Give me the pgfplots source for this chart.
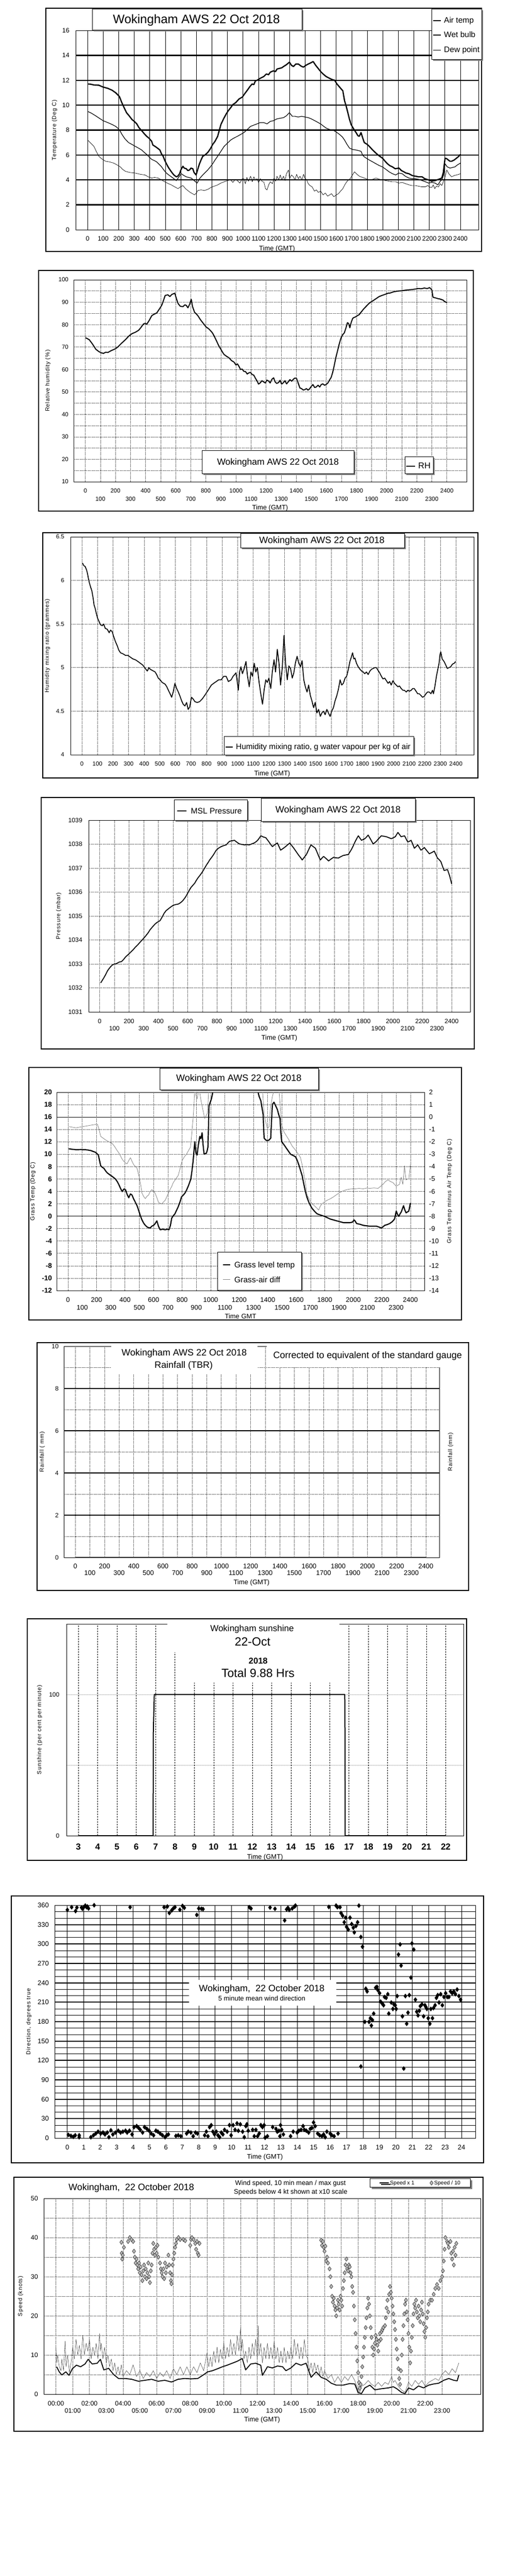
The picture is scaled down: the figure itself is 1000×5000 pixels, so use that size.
\documentclass[border=0pt]{standalone}
\usepackage{fontspec}
\setmainfont{Liberation Sans}
\newfontfamily\spaced[LetterSpace=8]{Liberation Sans}
\usepackage{pgfplots}
\pgfplotsset{compat=1.18}
\usetikzlibrary{shadows}
\newcommand\fs[1]{\fontsize{#1pt}{#1pt}\selectfont}
\newcommand\lo[1]{\raisebox{-14pt}{#1}}
\newcommand\shbox[4]{\fill[black!50] ({#1+3},{#2+3}) rectangle ({#3+3},{#4+3});
  \filldraw[fill=white,draw=black,line width=1pt] (#1,#2) rectangle (#3,#4);}
\pgfplotsset{
 /pgf/number format/1000 sep={},
 /pgf/number format/assume math mode=true,
 wb/.style={scale only axis, anchor=south west, axis line style={line width=1pt},
   major tick length=0pt, minor tick length=0pt, scaled ticks=false,
   every axis plot/.append style={line join=round}},
 gridonly/.style={scale only axis, anchor=south west, axis line style={draw=none},
   major tick length=0pt, xtick=\empty, yticklabels={}, yticklabel style={text opacity=0},
   ymajorgrids, major grid style={#1}},
 dotg/.style={black, line width=0.7pt, dash pattern=on 1pt off 1.3pt},
 stag/.style={xticklabel={\ifodd\ticknum\relax\raisebox{-#1}{\pgfmathprintnumber{\tick}}\else\pgfmathprintnumber{\tick}\fi}},
 xlab/.style={xlabel style={at={(axis description cs:0.5,#1)}, anchor=base, font=\fs{13}}},
 ylab/.style={ylabel style={at={(axis description cs:#1,0.5)}, anchor=center, font=\spaced\fs{11}}},
}
\begin{document}
\begin{tikzpicture}
\path[use as bounding box] (0,0) rectangle (1000pt,-5000pt);

% ================= 1 Temperature
\begin{axis}[gridonly={black, line width=2.4pt}, at={(147pt,-446pt)}, width=782pt, height=387pt,
 xmin=-77, xmax=2516, ymin=0, ymax=16, ytick={2,4,...,14}]
\end{axis}
\begin{axis}[wb, at={(147pt,-446pt)}, width=782pt, height=387pt,
 xmin=-77, xmax=2516, ymin=0, ymax=16,
 xtick={0,100,...,2400}, ytick={0,2,...,16},
 xmajorgrids, major grid style={black, line width=0.8pt},
 tick label style={font=\fs{12.5}},
 xticklabel style={anchor=base, yshift=-21pt},
 yticklabel style={anchor=east, inner sep=0pt, xshift=-12pt},
 xlabel={Time (GMT)}, xlab=-0.1034,
 ylabel={Temperature (Deg C)}, ylab=-0.0524]
\addplot[black, line width=0.7pt] coordinates {(0,7.2)(20,6.95)(40,6.7)(55,6.3)(72,5.9)(90,5.7)(115,5.5)(140,5.45)(168,5.35)(190,5.2)(210,5.05)(225,4.85)(242,4.7)(270,4.6)(306,4.55)(340,4.45)(369,4.4)(390,4.25)(412,4.15)(430,4.2)(454,4.15)(475,4.0)(497,3.85)(520,3.7)(539,3.6)(560,3.45)(582,3.3)(598,3.45)(613,3.55)(630,3.3)(645,3.15)(660,3.0)(675,2.9)(688,2.8)(700,2.95)(709,3.15)(730,3.2)(752,3.15)(775,3.25)(794,3.4)(815,3.5)(837,3.6)(858,3.75)(879,3.85)(900,3.95)(921,4.0)(935,3.8)(950,4.05)(964,3.95)(980,3.75)(995,4.1)(1006,4.1)(1015,3.7)(1025,4.2)(1035,3.9)(1049,4.3)(1060,3.85)(1070,4.25)(1080,4.0)(1091,4.1)(1100,3.8)(1112,4.1)(1125,3.85)(1134,3.85)(1145,3.3)(1155,3.2)(1165,3.6)(1176,3.85)(1190,3.7)(1200,4.15)(1210,3.9)(1219,4.3)(1230,4.0)(1240,4.4)(1250,4.0)(1261,4.3)(1270,3.95)(1280,4.5)(1293,4.8)(1300,4.1)(1312,4.4)(1325,4.25)(1335,4.0)(1345,4.45)(1357,4.1)(1367,4.3)(1380,4.0)(1390,4.45)(1399,4.15)(1410,4.0)(1420,3.7)(1431,3.55)(1445,3.45)(1460,3.1)(1473,3.2)(1485,3.0)(1500,3.1)(1516,2.8)(1530,2.95)(1545,2.7)(1558,2.8)(1570,2.9)(1585,2.65)(1601,2.8)(1615,2.9)(1628,3.1)(1643,3.3)(1655,3.6)(1665,3.8)(1675,3.95)(1690,4.1)(1700,4.3)(1718,4.65)(1730,4.5)(1749,4.3)(1770,4.2)(1792,4.1)(1815,4.0)(1835,4.05)(1856,4.15)(1880,4.05)(1900,4.0)(1919,3.95)(1940,3.9)(1960,3.85)(1983,3.85)(2005,3.75)(2025,3.8)(2047,3.7)(2070,3.6)(2090,3.55)(2110,3.55)(2130,3.5)(2150,3.45)(2174,3.45)(2190,3.55)(2205,3.4)(2216,3.4)(2225,3.6)(2235,3.3)(2245,3.5)(2259,3.45)(2270,3.7)(2280,3.55)(2290,3.85)(2300,4.2)(2312,4.8)(2325,4.5)(2343,4.25)(2360,4.35)(2375,4.4)(2390,4.45)(2400,4.5)};
\addplot[black, line width=1.2pt] coordinates {(0,9.5)(25,9.35)(51,9.15)(75,8.95)(100,8.75)(130,8.6)(157,8.45)(180,8.3)(195,8.15)(210,7.9)(221,7.65)(240,7.3)(263,7.0)(285,6.85)(306,6.7)(328,6.55)(348,6.4)(365,6.2)(380,6.05)(395,5.85)(412,5.65)(430,5.55)(444,5.45)(460,5.25)(476,5.05)(490,4.8)(507,4.55)(522,4.4)(539,4.25)(555,4.1)(571,3.95)(585,4.2)(603,4.5)(620,4.35)(635,4.25)(650,4.2)(667,4.15)(685,3.95)(705,3.75)(720,4.1)(741,4.4)(757,4.6)(773,4.8)(790,5.05)(805,5.3)(820,5.6)(837,5.9)(858,6.3)(879,6.7)(900,6.95)(921,7.2)(940,7.35)(964,7.5)(985,7.65)(1006,7.8)(1028,8.05)(1049,8.3)(1070,8.4)(1091,8.5)(1110,8.6)(1134,8.6)(1155,8.5)(1176,8.7)(1195,8.75)(1219,8.9)(1240,8.95)(1261,9.0)(1280,9.15)(1299,9.4)(1318,9.1)(1335,9.1)(1355,9.05)(1378,9.1)(1400,9.05)(1420,9.0)(1440,8.9)(1463,8.75)(1485,8.6)(1505,8.45)(1520,8.3)(1537,8.15)(1558,8.05)(1580,8.0)(1600,7.85)(1622,7.65)(1640,7.45)(1654,7.2)(1670,6.85)(1686,6.55)(1705,6.45)(1728,6.4)(1745,6.35)(1760,6.3)(1770,6.0)(1781,5.85)(1800,5.7)(1813,5.6)(1835,5.45)(1856,5.3)(1878,5.15)(1898,5.05)(1920,4.85)(1941,4.65)(1962,4.5)(1983,4.4)(2004,4.55)(2025,4.5)(2045,4.3)(2068,4.15)(2090,4.1)(2110,4.1)(2130,4.05)(2153,3.95)(2175,3.85)(2195,3.75)(2215,3.8)(2237,3.75)(2255,3.6)(2270,3.9)(2280,4.0)(2292,4.4)(2301,5.3)(2315,5.05)(2333,4.95)(2350,5.0)(2365,5.05)(2380,5.2)(2400,5.35)};
\addplot[black, line width=2.4pt] coordinates {(0,11.7)(20,11.68)(40,11.62)(72,11.6)(100,11.45)(130,11.35)(157,11.2)(180,11.0)(204,10.7)(220,10.2)(231,9.9)(250,9.4)(270,9.1)(285,8.85)(300,8.7)(316,8.5)(330,8.2)(348,7.95)(365,7.7)(380,7.5)(395,7.35)(412,7.1)(420,6.8)(433,6.7)(450,6.55)(465,6.4)(475,6.1)(486,5.9)(497,5.55)(507,5.3)(520,5.0)(539,4.65)(555,4.4)(571,4.25)(580,4.3)(592,4.5)(600,4.8)(613,5.1)(622,4.95)(635,4.9)(645,4.75)(656,4.8)(665,4.95)(677,4.9)(685,4.6)(698,4.4)(710,4.9)(720,5.3)(730,5.6)(741,5.9)(755,6.0)(773,6.2)(790,6.5)(805,6.85)(820,7.1)(837,7.5)(848,8.0)(858,8.45)(875,8.9)(890,9.25)(905,9.55)(921,9.8)(935,10.05)(953,10.2)(975,10.5)(996,10.65)(1010,10.9)(1028,11.2)(1045,11.5)(1059,11.7)(1070,11.65)(1080,11.95)(1091,12.0)(1110,12.15)(1134,12.3)(1150,12.5)(1165,12.45)(1176,12.65)(1195,12.75)(1210,12.7)(1219,12.9)(1235,12.95)(1250,13.0)(1261,13.1)(1280,13.25)(1299,13.45)(1312,13.2)(1325,13.1)(1340,13.3)(1357,13.3)(1372,13.15)(1389,13.05)(1405,13.2)(1420,13.3)(1437,13.4)(1452,13.5)(1468,13.2)(1484,12.95)(1500,12.7)(1516,12.5)(1535,12.3)(1558,12.15)(1575,12.05)(1590,12.0)(1605,11.7)(1622,11.45)(1643,11.15)(1654,10.35)(1665,9.9)(1675,9.4)(1685,8.9)(1696,8.45)(1712,8.1)(1728,7.8)(1740,7.55)(1749,7.5)(1760,7.8)(1770,7.4)(1781,7.0)(1800,6.85)(1813,6.7)(1835,6.4)(1856,6.15)(1875,5.95)(1898,5.75)(1915,5.5)(1930,5.3)(1945,5.15)(1962,5.05)(1980,4.9)(2004,4.95)(2020,4.75)(2036,4.65)(2050,4.55)(2068,4.5)(2090,4.35)(2110,4.3)(2130,4.25)(2153,4.25)(2170,4.1)(2195,4.0)(2215,3.9)(2237,3.95)(2260,4.05)(2280,4.15)(2290,4.6)(2301,5.75)(2312,5.7)(2322,5.6)(2333,5.5)(2343,5.5)(2360,5.6)(2375,5.75)(2390,5.9)(2400,6.05)};
\end{axis}

% ================= 2 RH
\begin{axis}[wb, at={(143pt,-935pt)}, width=763pt, height=392pt,
 xmin=-77.6, xmax=2531, ymin=10, ymax=100,
 xtick={0,100,...,2400}, ytick={10,20,...,100}, minor ytick={15,25,...,95},
 xmajorgrids, ymajorgrids, yminorgrids, major grid style={dotg}, minor grid style={dotg},
 tick label style={font=\fs{11.5}}, stag=15.6pt,
 xticklabel style={anchor=base, yshift=-21.7pt},
 yticklabel style={anchor=east, inner sep=0pt, xshift=-10pt},
 xlabel={Time (GMT)}, xlab=-0.1385,
 ylabel={Relative humidity (\%)}, ylab=-0.0655]
\addplot[black, line width=2pt] coordinates {(0,74.2)(26,73.3)(48,71.3)(70,69.0)(90,68.0)(103,67.5)(120,67.2)(135,67.7)(150,67.6)(168,68.3)(185,68.8)(201,69.3)(215,70.0)(234,71.3)(250,72.3)(266,73.3)(290,75.0)(310,76.0)(332,76.6)(354,77.5)(370,78.8)(386,80.3)(397,80.6)(408,80.2)(425,82.0)(441,84.0)(455,84.6)(474,85.2)(490,86.8)(507,88.6)(520,91.0)(530,93.0)(548,93.3)(561,92.5)(575,93.5)(594,94.0)(605,91.5)(616,89.4)(630,88.2)(648,88.0)(660,88.8)(670,88.6)(681,87.5)(692,89.0)(703,91.3)(712,88.0)(725,85.5)(736,84.8)(747,84.0)(763,82.3)(779,80.9)(790,80.0)(801,79.0)(818,78.2)(834,77.1)(845,76.2)(856,74.8)(867,73.3)(878,71.7)(889,70.2)(900,69.0)(910,67.8)(921,66.7)(935,66.0)(954,65.2)(970,64.0)(987,63.3)(1000,62.0)(1010,62.5)(1020,61.4)(1030,60.0)(1041,60.2)(1052,59.2)(1063,59.1)(1075,58.0)(1085,58.5)(1096,58.7)(1107,57.8)(1118,57.5)(1130,56.0)(1140,54.9)(1150,53.5)(1162,54.1)(1172,55.0)(1183,54.5)(1195,54.0)(1205,55.3)(1216,54.9)(1227,54.0)(1238,55.6)(1250,56.3)(1260,54.5)(1270,53.8)(1283,54.2)(1293,55.2)(1303,53.5)(1314,54.1)(1325,55.0)(1336,53.6)(1347,54.5)(1358,55.5)(1370,54.8)(1380,55.6)(1391,56.2)(1402,56.0)(1413,54.0)(1424,51.8)(1435,51.5)(1446,50.9)(1456,51.0)(1468,51.5)(1478,50.8)(1489,51.4)(1500,52.5)(1511,53.3)(1522,52.0)(1533,52.2)(1545,53.0)(1556,52.2)(1566,53.3)(1577,53.6)(1588,53.0)(1598,53.3)(1610,54.0)(1620,55.2)(1632,56.5)(1642,58.7)(1653,62.0)(1664,65.6)(1675,68.5)(1686,71.5)(1697,74.0)(1708,75.5)(1719,76.3)(1730,78.5)(1740,80.9)(1748,80.5)(1756,78.6)(1765,81.0)(1775,82.8)(1784,83.2)(1795,83.5)(1806,84.0)(1817,84.4)(1830,85.5)(1849,87.1)(1865,88.2)(1882,89.4)(1898,90.2)(1915,90.9)(1935,91.8)(1950,92.5)(1969,93.0)(1990,93.5)(2010,94.0)(2024,94.1)(2045,94.6)(2060,94.8)(2079,95.0)(2100,95.1)(2120,95.3)(2144,95.5)(2165,95.6)(2185,95.8)(2210,96.1)(2230,96.0)(2250,96.3)(2270,96.1)(2286,96.5)(2300,95.5)(2308,92.2)(2320,92.0)(2340,91.6)(2355,91.4)(2373,91.0)(2385,90.3)(2400,89.8)};
\end{axis}

% ================= 3 Mixing ratio
\begin{axis}[wb, at={(137pt,-1465pt)}, width=783pt, height=423pt,
 xmin=-72.7, xmax=2515, ymin=4, ymax=6.5,
 xtick={0,100,...,2400}, ytick={4,4.5,5,5.5,6,6.5},
 xmajorgrids, ymajorgrids, major grid style={dotg},
 tick label style={font=\fs{11.5}},
 xticklabel style={anchor=base, yshift=-21.7pt},
 yticklabel style={anchor=east, inner sep=0pt, xshift=-12pt},
 xlabel={Time (GMT)}, xlab=-0.0946,
 ylabel={Humidity mixing ratio (grammes)}, ylab=-0.0575]
\addplot[black, line width=1.7pt] coordinates {(4,6.20)(12,6.17)(21,6.16)(30,6.12)(36,6.08)(42,6.02)(47,5.98)(55,5.93)(64,5.88)(72,5.80)(78,5.72)(85,5.68)(93,5.62)(100,5.57)(110,5.53)(120,5.49)(131,5.48)(140,5.50)(150,5.45)(163,5.44)(175,5.40)(184,5.43)(195,5.41)(205,5.35)(215,5.30)(227,5.25)(237,5.20)(248,5.17)(262,5.16)(280,5.14)(295,5.14)(311,5.12)(327,5.10)(343,5.09)(360,5.07)(375,5.05)(390,5.03)(407,4.99)(420,4.96)(430,5.00)(439,4.98)(450,4.97)(460,4.96)(470,4.95)(480,4.92)(490,4.88)(502,4.86)(515,4.83)(534,4.81)(545,4.78)(555,4.74)(566,4.70)(576,4.66)(586,4.72)(597,4.82)(608,4.76)(619,4.72)(630,4.67)(640,4.62)(650,4.58)(661,4.56)(672,4.60)(682,4.52)(692,4.55)(703,4.66)(714,4.64)(725,4.61)(740,4.60)(756,4.61)(772,4.64)(788,4.68)(810,4.74)(831,4.80)(846,4.82)(862,4.84)(878,4.86)(894,4.86)(910,4.90)(926,4.90)(940,4.84)(958,4.86)(970,4.90)(980,4.92)(989,4.94)(996,4.85)(1004,4.74)(1012,4.95)(1021,5.01)(1030,4.93)(1040,4.98)(1053,5.07)(1063,4.90)(1074,4.78)(1085,4.95)(1095,4.90)(1106,5.05)(1116,4.95)(1126,5.00)(1138,4.82)(1148,4.70)(1159,4.58)(1170,4.75)(1180,4.86)(1190,4.83)(1200,4.88)(1212,4.76)(1222,4.95)(1233,5.09)(1243,4.95)(1254,5.21)(1265,5.05)(1275,4.80)(1286,5.00)(1297,5.37)(1307,5.05)(1318,4.86)(1328,5.02)(1339,4.99)(1350,4.88)(1360,4.94)(1370,5.05)(1381,5.13)(1392,5.05)(1403,5.01)(1413,5.08)(1424,4.86)(1434,4.78)(1445,4.72)(1455,4.80)(1466,4.68)(1476,4.62)(1487,4.54)(1497,4.60)(1508,4.48)(1519,4.52)(1530,4.44)(1540,4.48)(1551,4.50)(1561,4.46)(1572,4.52)(1582,4.48)(1593,4.44)(1603,4.50)(1614,4.54)(1625,4.62)(1636,4.68)(1646,4.75)(1657,4.86)(1667,4.80)(1678,4.82)(1689,4.88)(1699,4.90)(1710,4.98)(1720,5.07)(1729,5.12)(1737,5.17)(1745,5.10)(1752,5.11)(1762,5.05)(1773,5.01)(1785,4.98)(1795,4.96)(1805,4.95)(1815,4.93)(1826,4.95)(1837,4.92)(1848,4.96)(1858,4.98)(1869,4.99)(1880,5.00)(1890,5.00)(1900,4.97)(1911,4.94)(1922,4.90)(1932,4.87)(1943,4.88)(1954,4.85)(1965,4.82)(1975,4.84)(1985,4.80)(1996,4.85)(2006,4.82)(2017,4.80)(2028,4.78)(2038,4.79)(2049,4.76)(2060,4.74)(2070,4.74)(2081,4.72)(2092,4.74)(2102,4.73)(2113,4.74)(2123,4.76)(2133,4.76)(2144,4.73)(2155,4.70)(2165,4.70)(2176,4.68)(2186,4.66)(2197,4.67)(2208,4.70)(2218,4.72)(2229,4.72)(2240,4.70)(2250,4.74)(2256,4.70)(2265,4.78)(2275,4.90)(2284,4.98)(2292,5.05)(2298,5.15)(2303,5.18)(2312,5.10)(2324,5.07)(2335,5.03)(2345,4.99)(2356,5.00)(2367,5.01)(2378,5.04)(2390,5.05)(2398,5.07)};
\end{axis}

% ================= 4 Pressure
\begin{axis}[wb, at={(172pt,-1964pt)}, width=741pt, height=372pt,
 xmin=-75.9, xmax=2527, ymin=1031, ymax=1039,
 xtick={0,100,...,2400}, ytick={1031,1032,...,1039},
 xmajorgrids, ymajorgrids, major grid style={dotg},
 tick label style={font=\fs{12.2}}, stag=14.5pt,
 xticklabel style={anchor=base, yshift=-22.4pt},
 yticklabel style={anchor=east, inner sep=0pt, xshift=-12pt},
 xlabel={Time (GMT)}, xlab=-0.146,
 ylabel={Pressure (mbar)}, ylab=-0.0783]
\addplot[black, line width=1.8pt] coordinates {(7,1032.21)(18,1032.32)(29,1032.43)(40,1032.55)(52,1032.70)(63,1032.80)(74,1032.88)(85,1032.95)(97,1032.99)(108,1033.0)(119,1033.03)(134,1033.08)(149,1033.10)(162,1033.18)(176,1033.29)(192,1033.38)(209,1033.48)(226,1033.58)(243,1033.70)(260,1033.80)(277,1033.92)(294,1034.03)(311,1034.15)(328,1034.28)(345,1034.44)(362,1034.56)(378,1034.67)(395,1034.75)(412,1034.81)(425,1034.95)(439,1035.11)(452,1035.22)(468,1035.30)(485,1035.38)(502,1035.45)(519,1035.48)(536,1035.50)(550,1035.55)(565,1035.63)(578,1035.73)(592,1035.86)(607,1036.03)(622,1036.19)(635,1036.28)(649,1036.38)(660,1036.50)(671,1036.60)(684,1036.70)(698,1036.82)(712,1036.96)(727,1037.12)(738,1037.22)(750,1037.34)(761,1037.43)(773,1037.53)(784,1037.64)(795,1037.75)(812,1037.84)(829,1037.90)(846,1037.94)(863,1037.97)(874,1038.05)(885,1038.12)(902,1038.14)(919,1038.16)(936,1038.08)(953,1038.01)(970,1037.99)(986,1037.97)(1003,1037.98)(1020,1037.97)(1037,1038.01)(1054,1038.05)(1066,1038.10)(1077,1038.16)(1088,1038.25)(1099,1038.35)(1116,1038.30)(1133,1038.27)(1144,1038.18)(1155,1038.09)(1167,1037.98)(1178,1037.90)(1195,1037.98)(1212,1038.05)(1223,1037.90)(1234,1037.75)(1251,1037.82)(1268,1037.90)(1283,1037.98)(1297,1038.05)(1310,1037.94)(1324,1037.83)(1341,1037.68)(1358,1037.53)(1370,1037.44)(1381,1037.34)(1395,1037.45)(1410,1037.57)(1425,1037.77)(1441,1037.97)(1456,1037.90)(1471,1037.83)(1480,1037.70)(1489,1037.57)(1497,1037.45)(1505,1037.34)(1516,1037.42)(1527,1037.49)(1544,1037.40)(1561,1037.30)(1578,1037.38)(1595,1037.45)(1611,1037.43)(1628,1037.42)(1645,1037.48)(1662,1037.53)(1679,1037.55)(1696,1037.57)(1707,1037.68)(1718,1037.79)(1730,1037.94)(1741,1038.09)(1752,1038.22)(1764,1038.35)(1775,1038.25)(1786,1038.16)(1798,1038.20)(1809,1038.23)(1820,1038.30)(1831,1038.38)(1848,1038.20)(1865,1038.01)(1876,1038.06)(1887,1038.12)(1904,1038.24)(1921,1038.35)(1938,1038.33)(1955,1038.31)(1972,1038.27)(1989,1038.23)(2003,1038.27)(2016,1038.31)(2025,1038.40)(2034,1038.49)(2045,1038.40)(2056,1038.31)(2067,1038.33)(2079,1038.35)(2090,1038.22)(2101,1038.09)(2112,1038.12)(2124,1038.16)(2135,1038.00)(2146,1037.83)(2158,1037.90)(2169,1037.97)(2180,1037.86)(2191,1037.75)(2203,1037.80)(2214,1037.86)(2231,1037.73)(2248,1037.60)(2265,1037.65)(2282,1037.71)(2293,1037.56)(2304,1037.42)(2316,1037.35)(2327,1037.27)(2338,1037.08)(2349,1036.90)(2360,1036.92)(2372,1036.94)(2380,1036.80)(2387,1036.67)(2394,1036.50)(2401,1036.34)};
\end{axis}

% ================= 5 Grass
\begin{axis}[gridonly={black, line width=1.2pt}, at={(110pt,-2505pt)}, width=714pt, height=385pt,
 xmin=-79.4, xmax=2498, ymin=-12, ymax=20, ytick={0,16}]
\end{axis}
\begin{axis}[wb, at={(110pt,-2505pt)}, width=714pt, height=385pt,
 xmin=-79.4, xmax=2498, ymin=-12, ymax=20,
 xtick={0,100,...,2400}, ytick={-12,-10,...,20},
 xmajorgrids, ymajorgrids, major grid style={dotg},
 tick label style={font=\fs{13}}, stag=15.9pt,
 xticklabel style={anchor=base, yshift=-22pt},
 yticklabel style={font=\bfseries\fs{13.5}, anchor=east, inner sep=0pt, xshift=-9pt},
 xlabel={Time GMT}, xlab=-0.141,
 ylabel={Grass Temp (Deg C)}, ylab=-0.0644]
\addplot[black, line width=2.2pt] coordinates {(5,10.87)(30,10.8)(56,10.73)(90,10.75)(125,10.73)(160,10.59)(194,10.30)(213,9.87)(229,8.15)(240,7.9)(252,7.72)(264,7.3)(275,7.00)(292,6.7)(310,6.42)(322,6.2)(333,5.99)(345,5.6)(356,5.13)(368,4.5)(380,3.98)(392,4.4)(403,4.27)(415,3.5)(426,2.98)(438,3.6)(449,3.41)(460,2.8)(472,2.26)(484,1.7)(495,0.97)(507,0.1)(519,-0.61)(530,-1.1)(542,-1.47)(558,-1.8)(576,-1.90)(588,-1.6)(600,-1.47)(611,-1.2)(623,-0.75)(634,-1.6)(646,-2.19)(664,-2.1)(681,-2.19)(695,-2.1)(708,-2.19)(718,-1.5)(727,-0.32)(739,0.1)(750,0.40)(762,1.0)(773,1.54)(785,2.3)(796,3.12)(808,3.4)(819,3.70)(831,4.2)(843,4.85)(852,5.4)(861,5.99)(870,7.5)(877,8.86)(883,10.5)(889,12.02)(897,10.2)(905,9.87)(914,11.5)(924,12.88)(932,12.5)(940,13.46)(947,11.5)(954,10.01)(962,10.1)(970,10.16)(976,10.6)(981,11.16)(985,14.5)(988,17.76)(996,18.3)(1005,18.91)(1012,19.6)(1016,20.3)(1050,23)(1150,25)(1250,24)(1300,21.5)(1329,20.3)(1340,19.3)(1352,18.62)(1360,17.5)(1368,16.33)(1372,14.0)(1375,12.59)(1386,12.3)(1398,12.16)(1410,12.3)(1421,12.59)(1427,15.5)(1433,18.05)(1444,18.39)(1456,17.8)(1468,17.19)(1477,16.4)(1486,15.75)(1492,13.5)(1498,12.02)(1512,11.6)(1525,11.16)(1542,10.6)(1560,10.01)(1578,9.8)(1595,9.58)(1607,9.0)(1618,8.29)(1630,7.4)(1641,6.57)(1653,5.2)(1664,3.98)(1676,3.0)(1688,2.26)(1700,1.7)(1711,1.26)(1728,0.8)(1745,0.40)(1768,0.2)(1792,0.02)(1815,-0.2)(1838,-0.46)(1861,-0.6)(1884,-0.75)(1908,-0.9)(1931,-1.04)(1954,-1.05)(1977,-1.04)(1995,-0.95)(2005,-0.6)(2012,-0.75)(2023,-1.18)(2046,-1.3)(2069,-1.47)(2093,-1.55)(2116,-1.61)(2139,-1.6)(2162,-1.61)(2180,-1.75)(2197,-1.90)(2209,-1.7)(2220,-1.47)(2238,-1.35)(2255,-1.18)(2272,-0.9)(2289,-0.46)(2296,0.3)(2301,0.83)(2310,0.3)(2319,-0.03)(2328,0.4)(2336,0.68)(2344,1.2)(2352,1.69)(2361,1.0)(2370,0.54)(2380,0.7)(2389,0.83)(2395,1.5)(2400,2.12)};
\end{axis}
\begin{axis}[wb, at={(110pt,-2505pt)}, width=714pt, height=385pt,
 xmin=-79.4, xmax=2498, ymin=-14, ymax=2, ytick={-14,-13,...,2},
 axis y line*=right, axis x line=none,
 yticklabel style={font=\fs{13}, anchor=west, inner sep=0pt, xshift=9pt},
 ylabel={Grass Temp minus Air Temp (Deg C)},
 ylabel style={at={(axis description cs:1.0686,0.5)}, anchor=center, font=\spaced\fs{11}}]
\addplot[black!50, line width=0.8pt] coordinates {(5,-0.77)(30,-0.82)(56,-0.87)(90,-0.8)(125,-0.73)(165,-0.65)(206,-0.58)(218,-1.0)(229,-1.56)(246,-1.7)(264,-1.85)(287,-2.0)(310,-2.13)(328,-2.4)(345,-2.71)(357,-2.9)(368,-3.14)(380,-3.4)(391,-3.57)(403,-3.7)(414,-3.78)(426,-3.5)(438,-3.28)(450,-3.6)(461,-3.85)(473,-4.0)(484,-4.14)(492,-4.5)(500,-4.86)(510,-5.5)(519,-6.15)(530,-6.4)(542,-6.58)(553,-6.4)(565,-6.29)(576,-6.0)(588,-5.86)(600,-6.0)(611,-6.15)(623,-6.5)(634,-6.87)(645,-6.95)(657,-7.01)(669,-6.85)(681,-6.72)(698,-6.3)(715,-5.86)(727,-5.6)(738,-5.29)(755,-5.0)(773,-4.71)(787,-4.1)(801,-3.49)(816,-3.2)(831,-2.99)(845,-2.7)(859,-2.42)(868,-1.3)(877,-0.12)(883,1.0)(889,2.3)(897,1.8)(905,1.45)(912,1.9)(919,2.3)(930,1.5)(940,0.88)(949,0.4)(958,-0.12)(968,0.1)(977,0.31)(982,1.2)(986,2.2)(1000,3)(1100,4)(1200,4.5)(1300,3.5)(1363,2.2)(1370,1.0)(1375,0.16)(1386,-0.4)(1398,-0.91)(1404,-0.85)(1410,-0.77)(1415,0.1)(1421,0.88)(1432,1.6)(1444,2.2)(1479,2.2)(1488,0.8)(1495,-0.55)(1505,-0.9)(1514,-1.20)(1530,-1.5)(1549,-1.85)(1560,-2.1)(1572,-2.35)(1590,-2.6)(1606,-2.85)(1618,-3.05)(1630,-3.28)(1642,-3.9)(1653,-4.57)(1665,-5.4)(1676,-6.29)(1694,-6.7)(1711,-7.01)(1722,-7.1)(1734,-7.23)(1745,-7.35)(1757,-7.51)(1768,-7.2)(1780,-7.01)(1797,-6.85)(1815,-6.72)(1838,-6.6)(1861,-6.44)(1884,-6.25)(1907,-6.08)(1930,-5.95)(1954,-5.86)(1983,-5.8)(2012,-5.79)(2040,-5.75)(2069,-5.79)(2093,-5.73)(2116,-5.75)(2145,-5.72)(2174,-5.75)(2190,-5.6)(2208,-5.43)(2225,-5.2)(2243,-5.07)(2260,-5.2)(2278,-5.29)(2290,-5.45)(2301,-5.58)(2312,-5.5)(2324,-5.43)(2330,-5.1)(2336,-4.86)(2342,-5.2)(2347,-5.43)(2353,-4.7)(2359,-3.93)(2364,-4.6)(2370,-5.07)(2380,-5.0)(2389,-5.0)(2395,-4.4)(2400,-3.85)};
\end{axis}

% ================= 6 Rainfall
\begin{axis}[gridonly={black, line width=2.4pt}, at={(124pt,-3023pt)}, width=729pt, height=410pt,
 xmin=-78.3, xmax=2492, ymin=0, ymax=10, ytick={2,4,6,8}]
\end{axis}
\begin{axis}[wb, at={(124pt,-3023pt)}, width=729pt, height=410pt, clip=false,
 xmin=-78.3, xmax=2492, ymin=0, ymax=10,
 xtick={0,100,...,2400}, ytick={0,2,...,10}, minor ytick={1,3,...,9},
 xmajorgrids, yminorgrids, major grid style={dotg}, minor grid style={dotg},
 tick label style={font=\fs{13}}, stag=13.7pt,
 xticklabel style={anchor=base, yshift=-21pt},
 yticklabel style={font=\fs{12}, anchor=east, inner sep=0pt, xshift=-10pt},
 xlabel={Time (GMT)}, xlab=-0.1285,
 ylabel={Rainfall ( mm)}, ylab=-0.0576]
\addplot[black, line width=2.6pt] coordinates {(0,0)(2400,0)};
\end{axis}

% ================= 7 Sunshine
\begin{axis}[gridonly={black!45, line width=0.7pt, dash pattern=on 1pt off 1pt}, at={(129.5pt,-3563pt)}, width=770.5pt, height=411pt,
 xmin=2.40, xmax=22.92, ymin=0, ymax=150, ytick={50,100}]
\end{axis}
\begin{axis}[wb, at={(129.5pt,-3563pt)}, width=770.5pt, height=411pt, clip=false,
 xmin=2.40, xmax=22.92, ymin=0, ymax=150,
 xtick={3,4,...,22}, ytick={0,100},
 xmajorgrids, major grid style={black, line width=0.7pt, dash pattern=on 3pt off 2pt},
 tick label style={font=\fs{12}},
 xticklabel style={font=\bfseries\fs{17}, anchor=base, yshift=-27.3pt},
 yticklabel style={anchor=east, inner sep=0pt, xshift=-14pt},
 xlabel={Time (GMT)}, xlab=-0.11,
 ylabel={Sunshine (per cent per minute)}, ylab=-0.0681]
\addplot[black, line width=2pt] coordinates {(3,0)(6.87,0)(6.88,73)(6.93,100)(16.78,100)(16.79,70)(16.8,0)(22,0)};
\end{axis}

% ================= 8 Wind direction
\begin{axis}[gridonly={black, line width=2.2pt}, at={(106pt,-4150pt)}, width=817pt, height=452pt,
 xmin=-0.778, xmax=24.84, ymin=0, ymax=360, ytick={30,60,...,330}]
\end{axis}
\begin{axis}[wb, at={(106pt,-4150pt)}, width=817pt, height=452pt, clip=false,
 xmin=-0.778, xmax=24.84, ymin=0, ymax=360,
 xtick={0,1,...,24}, ytick={0,30,...,360}, minor y tick num=2,
 xmajorgrids, yminorgrids, major grid style={black, line width=0.7pt}, minor grid style={black, line width=0.7pt},
 tick label style={font=\fs{13}},
 xticklabel style={anchor=base, yshift=-22.5pt},
 yticklabel style={anchor=east, inner sep=0pt, xshift=-11pt},
 xlabel={Time (GMT)}, xlab=-0.0894,
 ylabel={Direction, degrees true}, ylab=-0.0612]
\addplot[only marks, mark=diamond*, mark size=4.4, mark options={fill=black, draw=black}] coordinates {
(0,352.8)(0.26,357)(0.5,351)(0.58,356.5)(0.86,356.5)(0.92,354.5)(1.0,357)(1.09,359.4)(1.17,357)(1.22,358)(1.29,355)(1.63,360)
(0.06,5)(0.22,3.4)(0.36,2)(0.48,4.3)(0.72,1.4)(0.72,4.3)
(1.43,1.4)(1.59,4.3)(1.73,7.1)(1.87,10)(2.03,7.1)(2.17,8.6)(2.29,5.7)(2.43,8.6)(2.53,1.4)(2.65,12)(2.77,5.7)(2.93,8.6)(3.1,11.4)(3.24,8.6)(3.38,10)(3.54,11.4)(3.64,8.6)(3.78,11.4)(3.82,357)(3.94,5.7)
(4.06,17)(4.22,18.5)(4.34,15.7)(4.44,12.8)(4.58,8.6)(4.7,17)(4.84,14.3)(4.98,11.4)(5.1,7.1)(5.25,4.3)(5.39,11.4)(5.51,10)(5.65,7.1)(5.79,4.3)(5.95,1.4)(6.05,4.3)(6.15,5.7)
(5.89,357)(6.09,358)(6.21,348)(6.35,352)(6.45,355)(6.55,357)(6.85,353)(7.01,359)(7.12,356)(7.88,345)(8.0,355)(8.16,354.5)(8.26,354)
(6.61,3.4)(6.75,4.3)(6.91,2.9)(7.26,7.1)(7.36,10)(7.52,8.6)(7.66,2.9)(7.8,8.6)(7.92,7.1)
(8.36,4.3)(8.46,10)(8.56,2.9)(8.66,17)(8.76,20)(8.86,10)(8.96,5.7)(9.07,10)(9.17,4.3)(9.27,1.4)(9.37,8.6)(9.47,5.7)(9.57,12.8)(9.73,10)(9.87,20)
(9.97,4.3)(10.09,20)(10.21,12.8)(10.33,22.8)(10.41,11.4)(10.53,21.4)(10.67,10)(10.77,1.4)(10.87,18.5)(10.93,21.4)(11.01,11.4)(11.08,357)(11.18,355)(11.28,12.8)(11.38,2.9)(11.48,12.8)(11.58,2.9)(11.68,7.1)(11.78,20)(11.88,17)(11.98,20)(12.04,0.6)(12.18,2.9)(12.34,356.5)(12.5,17)(12.64,354.5)(12.7,14.3)(12.78,10)(12.88,11.4)(12.94,2.9)(12.98,20)(13.05,12.8)(13.15,5.7)(13.23,336.6)(13.35,353.7)(13.43,356)(13.51,352.8)(13.59,2.9)(13.69,355)(13.75,10)(13.83,358)(13.89,359.4)
(13.99,8.6)(14.09,11.4)(14.23,12.8)(14.35,18.5)(14.43,12.8)(14.55,11.4)(14.69,8.6)(14.79,14.3)(14.89,15.7)(14.99,24.2)(15.09,18.5)(15.24,7.1)(15.36,4.3)(15.5,2.9)(15.6,5.7)(15.7,1.4)(15.8,10)(15.92,357.4)(16.0,7.1)(16.1,4.3)(16.24,2.9)(16.36,359.4)(16.44,357)(16.48,7.1)(16.6,357)
(16.66,348)(16.76,343.7)(16.86,333.7)(16.94,340.8)(17.0,326.6)(17.1,322.3)(17.21,340.8)(17.31,330.9)(17.41,325.2)(17.47,318)(17.57,328)(17.67,333.7)(17.75,359.4)(17.87,310.9)(17.97,295.8)(17.87,110.7)
(18.11,179.7)(18.17,231)(18.25,226.8)(18.37,179.7)(18.45,185.4)(18.51,174)(18.57,182.5)(18.65,192.5)(18.77,232.5)(18.85,233.9)(18.91,228.7)(19.01,224)(19.07,211)(19.17,208)(19.25,205.4)(19.31,218.2)(19.41,216.8)(19.51,222.5)(19.57,192.5)(19.72,209.6)(19.82,199.7)(19.88,206.8)(19.96,205.4)(20.02,199.7)(20.08,219.6)(20.16,283.8)(20.26,299.5)(20.32,266.7)(20.4,188.2)(20.48,107.5)(20.58,219.6)(20.66,176.8)(20.74,194)(20.82,221)(20.92,248.1)(20.98,301)(21.09,291.5)(21.19,214)(21.27,195.4)(21.35,189.7)(21.43,196.8)(21.49,204)(21.59,206.8)(21.69,188.2)(21.77,205.4)(21.83,202.5)(21.89,199.7)(21.97,185.4)(22.07,176.8)(22.13,199.7)(22.23,185.4)(22.29,201)(22.39,205.4)(22.47,216.8)(22.55,221)(22.63,209.6)(22.73,222.5)(22.83,205.4)(22.93,218.2)(23.03,224)(23.13,218.2)(23.23,218.2)(23.33,226.8)(23.43,224)(23.53,226.8)(23.63,222.5)(23.73,229.6)(23.84,219.6)(23.94,214)};
\end{axis}

% ================= 9 Wind speed
\begin{axis}[wb, at={(85pt,-4647pt)}, width=848pt, height=380pt, clip=false,
 xmin=-0.724, xmax=25.29, ymin=0, ymax=50,
 xtick={0,1,...,23}, ytick={0,10,...,50}, minor ytick={5,15,...,45},
 xticklabels={00:00,\lo{01:00},02:00,\lo{03:00},04:00,\lo{05:00},06:00,\lo{07:00},08:00,\lo{09:00},10:00,\lo{11:00},12:00,\lo{13:00},14:00,\lo{15:00},16:00,\lo{17:00},18:00,\lo{19:00},20:00,\lo{21:00},22:00,\lo{23:00}},
 xmajorgrids, ymajorgrids, yminorgrids, major grid style={dotg}, minor grid style={dotg},
 tick label style={font=\fs{12.5}},
 xticklabel style={anchor=base, yshift=-22.3pt},
 yticklabel style={anchor=east, inner sep=0pt, xshift=-11pt},
 xlabel={Time (GMT)}, xlab=-0.1413,
 ylabel={Speed (knots)}, ylab=-0.0531,
 legend columns=2,
 legend style={at={(axis description cs:0.7465,1.1026)}, anchor=north west, draw=black, line width=1pt, fill=white, font=\fs{10.5}, inner xsep=18pt, inner ysep=2pt, /tikz/every even column/.append style={column sep=28pt}, general shadow={fill=black!50, shadow xshift=3pt, shadow yshift=-3pt}}]
\addplot[forget plot, black!70, line width=0.6pt] coordinates {(0.0,12)(0.05,8)(0.1,10)(0.2,7)(0.3,6)(0.35,9)(0.45,6)(0.55,13.5)(0.6,7)(0.7,10)(0.8,5.5)(0.9,8)(1.0,12)(1.1,9)(1.2,14)(1.3,10)(1.4,12.5)(1.5,9)(1.6,15)(1.7,10)(1.8,13)(1.9,11)(2.0,14)(2.1,9)(2.2,12)(2.3,10)(2.4,13)(2.5,9)(2.6,15.5)(2.65,11)(2.7,13)(2.8,9)(2.9,12)(3.0,8)(3.1,10)(3.2,7)(3.3,9)(3.4,6)(3.5,8)(3.6,5)(3.7,7)(3.8,5)(3.9,7.5)(4.0,4.5)(4.2,6)(4.4,5)(4.6,7.5)(4.8,4.5)(5.0,6)(5.2,4)(5.4,5.5)(5.6,4.5)(5.8,6)(6.0,4)(6.2,5.5)(6.4,4.5)(6.6,6)(6.8,4)(7.0,6.5)(7.2,5)(7.4,7)(7.6,5)(7.8,7)(8.0,5)(8.2,7)(8.4,5.5)(8.6,8)(8.8,6)(9.0,10.5)(9.1,7)(9.2,9.5)(9.3,7)(9.4,11)(9.5,8)(9.6,12)(9.7,8)(9.8,11.5)(9.9,9)(10.0,13)(10.1,9)(10.2,12)(10.3,9.5)(10.4,14)(10.5,10)(10.6,13)(10.7,10)(10.8,15)(10.9,11)(11.0,17)(11.05,11)(11.1,14)(11.2,9)(11.3,11)(11.4,8)(11.5,12)(11.6,9)(11.7,13)(11.8,10)(11.9,14)(12.0,9)(12.05,17.5)(12.1,10)(12.2,13)(12.3,8)(12.4,12)(12.5,9)(12.6,13)(12.7,9)(12.8,12)(12.9,9)(13.0,13.5)(13.1,9)(13.2,12)(13.3,8)(13.4,11)(13.5,8)(13.6,12)(13.7,8)(13.8,11)(13.9,9)(14.0,12)(14.1,9)(14.2,14)(14.3,10)(14.4,13)(14.5,9)(14.6,12)(14.7,9)(14.8,14)(14.9,10)(15.0,9)(15.1,6)(15.2,8)(15.3,5.5)(15.4,8)(15.5,6)(15.6,7.5)(15.7,5)(15.8,7)(15.9,4.5)(16.0,6)(16.2,4)(16.4,5)(16.6,3)(16.8,4.5)(17.0,3)(17.2,4.5)(17.4,3.5)(17.6,5)(17.8,3.5)(18.0,1)(18.1,0.5)(18.2,2)(18.4,2.5)(18.6,3.5)(18.8,2.5)(19.0,2)(19.2,3)(19.4,2)(19.6,3)(19.8,2.5)(20.0,4.5)(20.1,3)(20.2,3.5)(20.4,2)(20.6,1)(20.8,0.5)(21.0,3)(21.2,2)(21.4,3.5)(21.6,2.5)(21.8,3.5)(22.0,2)(22.2,3)(22.4,3.5)(22.6,4)(22.8,3.5)(23.0,5)(23.2,6)(23.4,5)(23.6,6.5)(23.8,5.5)(24.0,8)};
\addplot[black, line width=1.8pt] coordinates {(0.04,7.0)(0.2,5.7)(0.35,4.9)(0.59,5.7)(0.78,4.8)(0.98,6.5)(1.22,7.4)(1.47,7.0)(1.73,7.7)(1.92,8.9)(2.16,7.7)(2.46,7.9)(2.65,8.9)(2.85,6.2)(3.14,6.6)(3.44,5.0)(3.73,4.0)(4.12,4.0)(4.52,3.8)(4.91,3.3)(5.3,3.55)(5.7,3.8)(6.09,3.3)(6.48,3.55)(6.88,3.1)(7.27,3.8)(7.66,4.0)(8.06,3.9)(8.45,4.0)(8.74,4.8)(9.04,5.7)(9.33,6.0)(9.63,6.5)(9.92,7.0)(10.2,7.4)(10.5,7.9)(10.8,8.4)(11.1,9.1)(11.3,6.2)(11.6,7.7)(11.9,7.9)(12.2,7.4)(12.3,4.8)(12.6,7.0)(12.9,6.7)(13.2,7.2)(13.5,7.0)(13.7,6.0)(14.0,6.7)(14.3,7.9)(14.6,7.4)(14.9,7.9)(15.2,4.3)(15.5,5.7)(15.8,4.3)(16.1,3.8)(16.4,2.8)(16.7,2.3)(17.1,2.3)(17.5,2.7)(17.8,2.6)(18.0,0.4)(18.2,0.15)(18.4,1.6)(18.7,2.3)(19.0,1.1)(19.4,1.4)(19.8,1.6)(20.1,1.9)(20.3,1.4)(20.6,0.4)(20.8,0.15)(21.0,1.6)(21.3,1.1)(21.6,2.1)(21.9,1.6)(22.2,2.3)(22.5,2.6)(22.8,2.8)(23.1,3.55)(23.4,4.0)(23.7,3.55)(23.9,3.4)(24.0,4.9)};
\addlegendentry{Speed x 1}
\addplot[only marks, mark=diamond*, mark size=4.3, line width=0.6pt, mark options={fill=black!28, draw=black!85}] coordinates {
(3.9,38.8)(3.92,36)(3.95,34.5)(3.98,35.5)(4.05,37.5)(4.3,39)(4.4,40)(4.5,39.5)(4.6,39)(4.65,36.5)(4.7,35)(4.75,33.5)(4.8,34.5)(4.85,33)(4.9,32)(4.95,33.5)(5.0,31)(5.05,32.5)(5.1,30.5)(5.15,29)(5.2,31.5)(5.25,33)(5.3,30)(5.35,32)(5.4,29.5)(5.45,31)(5.5,33.5)(5.55,30)(5.6,28.5)(5.65,31.5)(5.7,33)(5.75,36)(5.8,38.5)(5.85,37)(5.9,35.5)(5.95,37.5)(6.0,36)(6.05,38)(6.1,35)(6.2,33.5)(6.25,32)(6.3,31)(6.35,30)(6.4,32)(6.45,29.5)(6.5,33.5)(6.55,31)(6.6,32.5)(6.7,35.5)(6.75,33)(6.8,31)(6.85,29)(6.88,28.2)(6.92,30.5)(6.95,33)(7.0,34.5)(7.05,36)(7.1,37.5)(7.15,38.5)(7.2,39.5)(7.3,40)(7.4,39.5)(7.6,39.5)(7.7,39.2)(8.0,38)(8.05,39.5)(8.1,40)(8.2,39.5)(8.3,38.5)(8.35,37)(8.4,39)(8.45,36)(8.5,35.5)(8.55,38.5)
(15.8,39.3)(15.85,38)(15.9,39)(15.95,37.5)(16.0,36.5)(16.05,37.8)(16.1,34)(16.15,35)(16.2,33.5)(16.3,32)(16.35,30)(16.4,27.5)(16.45,25)(16.5,23.5)(16.55,24.5)(16.6,22.5)(16.65,21.5)(16.7,20)(16.75,22)(16.8,24)(16.85,23)(16.9,21.5)(16.95,25)(17.0,24)(17.05,22.5)(17.1,27)(17.15,29)(17.2,31)(17.25,33)(17.3,34.5)(17.35,32)(17.4,31.5)(17.45,33)(17.5,32.5)(17.55,31)(17.6,30)(17.65,27.5)(17.7,26)(17.75,22.5)(17.8,19)(17.85,15.5)(17.9,12)(17.95,8.5)(18.0,5.5)(18.05,3)(18.1,1.5)(18.15,2.5)(18.2,4.5)(18.25,7)(18.3,9.5)(18.35,12)(18.4,14.5)(18.45,17)(18.5,19.5)(18.55,22)(18.6,24.5)(18.65,23)(18.7,20)(18.75,17)(18.8,14.5)(18.85,12)(18.9,10)(18.95,11.5)(19.0,13)(19.05,15)(19.1,14)(19.15,12.5)(19.2,11)(19.25,13.5)(19.3,15.5)(19.35,14)(19.4,16)(19.45,16.5)(19.5,17)(19.6,17.5)(19.65,19.5)(19.7,22)(19.75,24)(19.8,21)(19.85,25.5)(19.9,27.5)(19.95,26)(20.0,24.5)(20.05,22.5)(20.1,20.5)(20.15,18.5)(20.2,16.5)(20.25,14)(20.3,11.5)(20.35,9)(20.4,6.5)(20.45,4)(20.5,2.5)(20.55,6)(20.6,10)(20.65,14)(20.7,17.5)(20.75,20.5)(20.8,23)(20.85,24)(20.9,21)(20.95,19)(21.0,15.5)(21.05,12)(21.1,8)(21.15,11)(21.2,14.5)(21.25,17.5)(21.3,20.5)(21.35,23)(21.4,22)(21.45,24)(21.5,21)(21.55,19.5)(21.6,22.5)(21.65,20)(21.7,18.5)(21.75,21.5)(21.8,23.5)(21.85,20.5)(21.9,18)(21.95,16)(22.0,14.5)(22.05,17)(22.1,19.5)(22.15,21)(22.2,23)(22.3,24)(22.4,24)(22.5,25.5)(22.6,27)(22.7,28)(22.8,27)(22.9,29)(23.0,30)(23.05,31.5)(23.1,34)(23.15,37)(23.2,40)(23.3,39)(23.35,38.5)(23.4,37.5)(23.5,39)(23.55,36)(23.6,34.5)(23.65,36.5)(23.7,33)(23.75,37.5)(23.8,35.5)(23.85,38.5)};
\addlegendentry{Speed / 10}
\end{axis}

% ================= decorations (px units, y downwards)
\begin{scope}[x=1pt,y=-1pt]
% 1
\draw[line width=1.3pt] (89,16) rectangle (935,488);
\shbox{179}{17}{586}{58}
\node[anchor=base,font=\fs{24}] at (381.4,45.4) {Wokingham AWS 22 Oct 2018};
\shbox{838}{17}{935}{115}
\draw[line width=2.4pt] (841,40) -- (856,40);
\draw[line width=1.2pt] (841,68) -- (856,68);
\draw[line width=0.7pt] (841,97) -- (856,97);
\node[anchor=base west,inner sep=0pt,font=\fs{15.5}] at (862,44) {Air temp};
\node[anchor=base west,inner sep=0pt,font=\fs{15.5}] at (862,72.5) {Wet bulb};
\node[anchor=base west,inner sep=0pt,font=\fs{15.5}] at (862,101.5) {Dew point};
% 2
\draw[line width=1.3pt] (75,525) rectangle (919,992);
\shbox{392}{874}{687}{919}
\node[anchor=base,font=\fs{17.5}] at (539.7,902.7) {Wokingham AWS 22 Oct 2018};
\shbox{786}{886}{841}{919}
\draw[line width=2.2pt] (789,905) -- (806,905);
\node[anchor=base west,inner sep=0pt,font=\fs{16.5}] at (812,909.5) {RH};
% 3
\draw[line width=1.3pt] (83,1034) rectangle (928,1510);
\shbox{467}{1035}{785}{1063}
\node[anchor=base,font=\fs{18}] at (625,1054.3) {Wokingham AWS 22 Oct 2018};
\shbox{435}{1429}{803}{1465}
\draw[line width=2pt] (438,1450) -- (452,1450);
\node[anchor=base west,inner sep=0pt,font=\fs{15.4}] at (458,1454) {Humidity mixing ratio, g water vapour per kg of air};
% 4
\draw[line width=1.3pt] (80,1548) rectangle (921,2036);
\shbox{338}{1552}{480}{1592}
\draw[line width=2pt] (344,1574) -- (362,1574);
\node[anchor=base west,inner sep=0pt,font=\fs{15.6}] at (370.5,1579.5) {MSL Pressure};
\shbox{507}{1549}{806}{1594}
\node[anchor=base,font=\fs{18}] at (656.4,1577) {Wokingham AWS 22 Oct 2018};
% 5
\draw[line width=1.3pt] (56,2072) rectangle (896,2562);
\shbox{310}{2073}{618}{2115}
\node[anchor=base,font=\fs{18}] at (463.8,2098.8) {Wokingham AWS 22 Oct 2018};
\shbox{422}{2430}{585}{2504}
\draw[line width=2.2pt] (433,2455) -- (447,2455);
\draw[line width=0.8pt, black!50] (433,2483) -- (447,2483);
\node[anchor=base west,inner sep=0pt,font=\fs{15.6}] at (455,2460.5) {Grass level temp};
\node[anchor=base west,inner sep=0pt,font=\fs{15.6}] at (455,2489.5) {Grass-air diff};
% 6
\draw[line width=1.3pt] (72,2606) rectangle (910,3087);
\fill[white] (216,2609) rectangle (500,2667);
\fill[white] (518,2609) rectangle (906,2653.5);
\node[anchor=base,font=\fs{18}] at (357.7,2631.7) {Wokingham AWS 22 Oct 2018};
\node[anchor=base,font=\fs{18}] at (356.7,2655) {Rainfall (TBR)};
\node[anchor=base,font=\fs{18}] at (713.8,2636.7) {Corrected to equivalent of the standard gauge};
\node[rotate=90,font=\spaced\fs{11}] at (875,2818) {Rainfall (mm)};
% 7
\draw[line width=1.3pt] (53,3142) rectangle (906,3611);
\fill[white] (325,3148) rectangle (659,3207);
\fill[white] (345,3207) rectangle (670,3266);
\node[anchor=base,font=\fs{17}] at (489.4,3166.3) {Wokingham sunshine};
\node[anchor=base,font=\fs{23}] at (490.4,3194.2) {22-Oct};
\node[anchor=base,font=\bfseries\fs{16.5}] at (501.3,3229) {2018};
\node[anchor=base,font=\fs{23}] at (501,3255.9) {Total 9.88 Hrs};
% 8
\draw[line width=1.3pt] (22,3680) rectangle (939,4198);
\fill[white] (367,3843) rectangle (653,3893);
\node[anchor=base,font=\fs{18}] at (508.3,3865.3) {Wokingham,\ \ 22 October 2018};
\node[anchor=base,font=\fs{13}] at (508.3,3883.3) {5 minute mean wind direction};
% 9
\draw[line width=1.3pt] (27,4226) rectangle (938,4719);
\node[anchor=base,font=\fs{18}] at (255,4251.6) {Wokingham,\ \ 22 October 2018};
\node[anchor=base,font=\fs{13}] at (564,4241) {Wind speed, 10 min mean / max gust};
\node[anchor=base,font=\fs{13}] at (564.4,4258) {Speeds below 4 kt shown at x10 scale};
\end{scope}
\end{tikzpicture}
\end{document}
